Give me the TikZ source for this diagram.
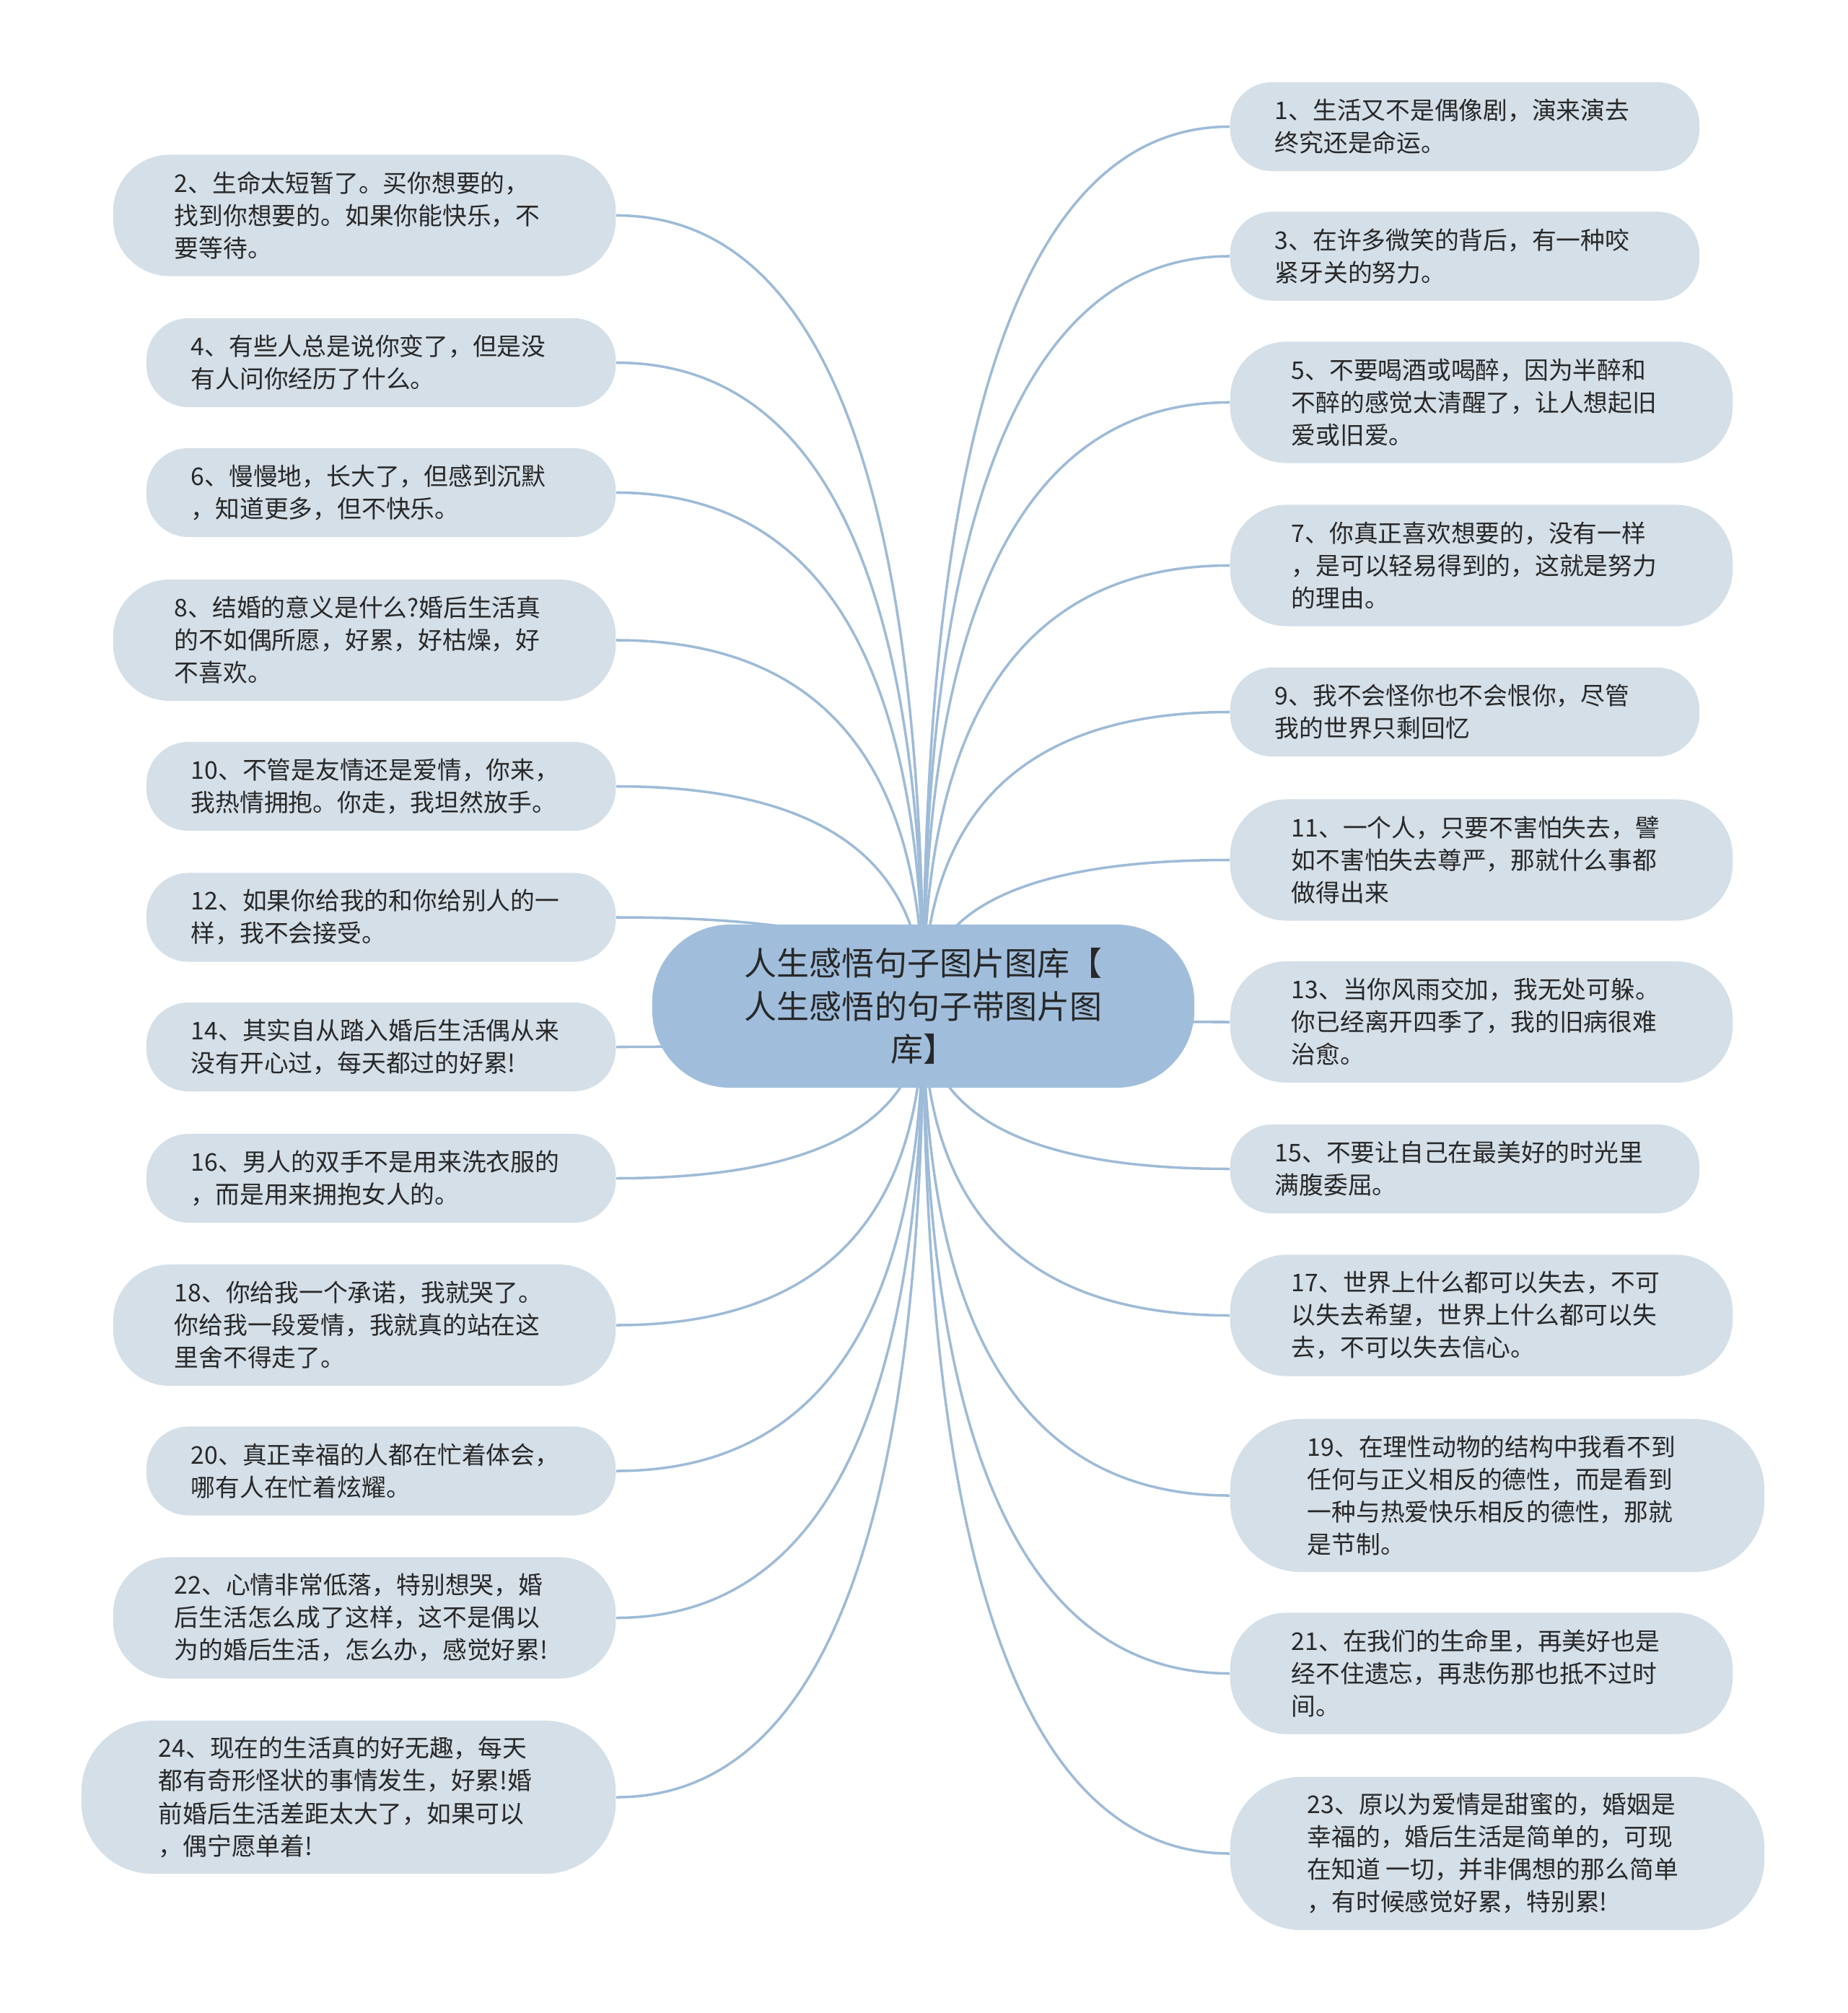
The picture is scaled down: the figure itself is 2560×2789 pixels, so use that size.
\documentclass[tikz,border=0pt]{standalone}
\usepackage{fontspec}
\setmainfont{Noto Sans CJK SC}
\usetikzlibrary{
    calc,
    backgrounds
}
\definecolor{rootfill}{RGB}{160,190,220}
\definecolor{leaffill}{RGB}{212,223,232}
\definecolor{linkcol}{RGB}{158,187,215}
\definecolor{textcol}{RGB}{40,40,40}
\tikzset{
    leaf/.style={fill=leaffill,text=textcol,align=flush left,text width=5.26cm,inner ysep=0pt,
        font=\fontsize{9.6}{12.8}\selectfont},
    twoline/.style={leaf,inner xsep=0.62cm,minimum height=1.23cm,rounded corners=0.58cm},
    threeline/.style={leaf,inner xsep=0.85cm,minimum height=1.68cm,rounded corners=0.78cm},
    fourline/.style={leaf,inner xsep=1.07cm,minimum height=2.12cm,rounded corners=0.98cm},
    root/.style={fill=rootfill,text=textcol,align=center,inner sep=0pt,
        minimum width=7.51cm,minimum height=2.26cm,rounded corners=1.08cm,
        font=\fontsize{12.8}{17}\selectfont},
    branch/.style={draw=linkcol,line width=1pt}
}

\begin{document}
\begin{tikzpicture}[x=0.01cm,y=-0.01cm]
\useasboundingbox (0,0) rectangle (2560,2789);

\node[root] (root) at (1279.5,1394) {人生感悟句子图片图库【\\人生感悟的句子带图片图\\库】};

% left side
\node[threeline,anchor=east] (n2) at (854,298.5) {2、生命太短暂了。买你想要的，\\找到你想要的。如果你能快乐，不\\要等待。};
\node[twoline,anchor=east] (n4) at (854,502.5) {4、有些人总是说你变了，但是没\\有人问你经历了什么。};
\node[twoline,anchor=east] (n6) at (854,682.5) {6、慢慢地，长大了，但感到沉默\\，知道更多，但不快乐。};
\node[threeline,anchor=east] (n8) at (854,887) {8、结婚的意义是什么?婚后生活真\\的不如偶所愿，好累，好枯燥，好\\不喜欢。};
\node[twoline,anchor=east] (n10) at (854,1089.5) {10、不管是友情还是爱情，你来，\\我热情拥抱。你走，我坦然放手。};
\node[twoline,anchor=east] (n12) at (854,1271) {12、如果你给我的和你给别人的一\\样，我不会接受。};
\node[twoline,anchor=east] (n14) at (854,1450.5) {14、其实自从踏入婚后生活偶从来\\没有开心过，每天都过的好累!};
\node[twoline,anchor=east] (n16) at (854,1632.5) {16、男人的双手不是用来洗衣服的\\，而是用来拥抱女人的。};
\node[threeline,anchor=east] (n18) at (854,1836) {18、你给我一个承诺，我就哭了。\\你给我一段爱情，我就真的站在这\\里舍不得走了。};
\node[twoline,anchor=east] (n20) at (854,2038) {20、真正幸福的人都在忙着体会，\\哪有人在忙着炫耀。};
\node[threeline,anchor=east] (n22) at (854,2241.5) {22、心情非常低落，特别想哭，婚\\后生活怎么成了这样，这不是偶以\\为的婚后生活，怎么办，感觉好累!};
\node[fourline,anchor=east] (n24) at (854,2490) {24、现在的生活真的好无趣，每天\\都有奇形怪状的事情发生，好累!婚\\前婚后生活差距太大了，如果可以\\，偶宁愿单着!};

% right side
\node[twoline,anchor=west] (n1) at (1704,175.5) {1、生活又不是偶像剧，演来演去\\终究还是命运。};
\node[twoline,anchor=west] (n3) at (1704,355) {3、在许多微笑的背后，有一种咬\\紧牙关的努力。};
\node[threeline,anchor=west] (n5) at (1704,557.5) {5、不要喝酒或喝醉，因为半醉和\\不醉的感觉太清醒了，让人想起旧\\爱或旧爱。};
\node[threeline,anchor=west] (n7) at (1704,783.5) {7、你真正喜欢想要的，没有一样\\，是可以轻易得到的，这就是努力\\的理由。};
\node[twoline,anchor=west] (n9) at (1704,986.5) {9、我不会怪你也不会恨你，尽管\\我的世界只剩回忆};
\node[threeline,anchor=west] (n11) at (1704,1191.5) {11、一个人，只要不害怕失去，譬\\如不害怕失去尊严，那就什么事都\\做得出来};
\node[threeline,anchor=west] (n13) at (1704,1416) {13、当你风雨交加，我无处可躲。\\你已经离开四季了，我的旧病很难\\治愈。};
\node[twoline,anchor=west] (n15) at (1704,1619.5) {15、不要让自己在最美好的时光里\\满腹委屈。};
\node[threeline,anchor=west] (n17) at (1704,1822.5) {17、世界上什么都可以失去，不可\\以失去希望，世界上什么都可以失\\去，不可以失去信心。};
\node[fourline,anchor=west] (n19) at (1704,2072) {19、在理性动物的结构中我看不到\\任何与正义相反的德性，而是看到\\一种与热爱快乐相反的德性，那就\\是节制。};
\node[threeline,anchor=west] (n21) at (1704,2318.5) {21、在我们的生命里，再美好也是\\经不住遗忘，再悲伤那也抵不过时\\间。};
\node[fourline,anchor=west] (n23) at (1704,2568) {23、原以为爱情是甜蜜的，婚姻是\\幸福的，婚后生活是简单的，可现\\在知道~一切，并非偶想的那么简单\\，有时候感觉好累，特别累!};

% connectors behind the nodes
\begin{scope}[on background layer]
\foreach \i in {2,4,...,24}
    \draw[branch] (root.center) .. controls ($(root.center)!2/3!(root.center|-n\i.east)$) and ($(n\i.east)!2/3!(root.center|-n\i.east)$) .. (n\i.east);
\foreach \i in {1,3,...,23}
    \draw[branch] (root.center) .. controls ($(root.center)!2/3!(root.center|-n\i.west)$) and ($(n\i.west)!2/3!(root.center|-n\i.west)$) .. (n\i.west);
\end{scope}

\end{tikzpicture}
\end{document}
